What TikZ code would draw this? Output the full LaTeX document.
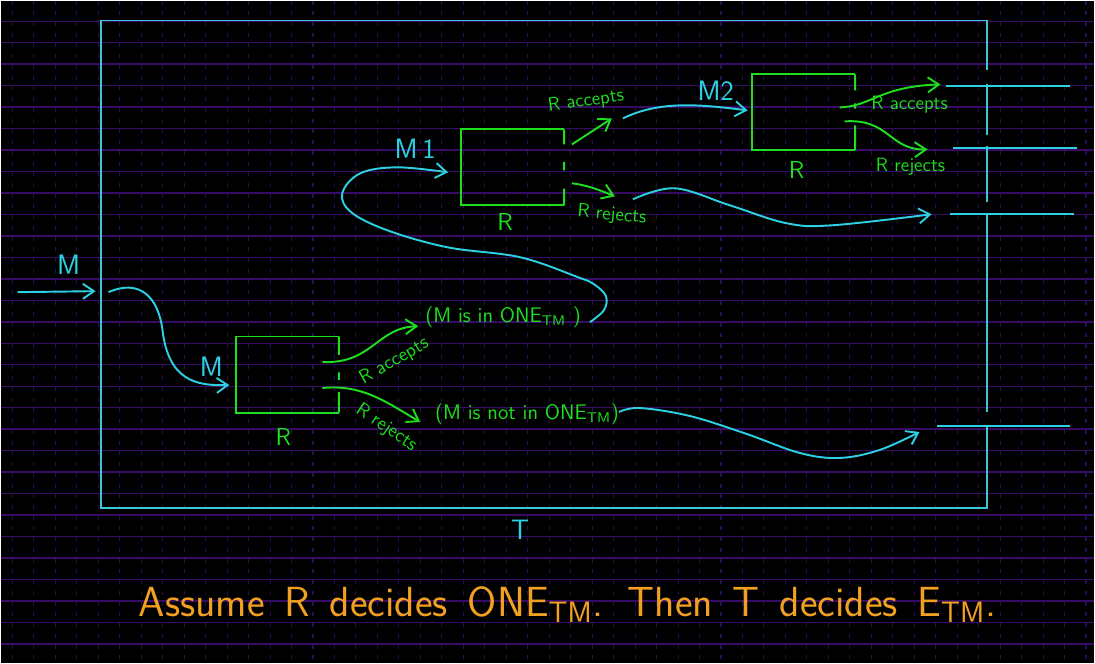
\documentclass[tikz,border=0pt]{standalone}
\usepackage{tikz}
\usetikzlibrary{arrows.meta,positioning,calc}
\definecolor{gridh}{RGB}{56,12,102}
\definecolor{gridv}{RGB}{40,14,88}
\definecolor{cyanink}{RGB}{45,208,226}
\definecolor{boxink}{RGB}{62,198,214}
\definecolor{greenink}{RGB}{30,222,30}
\definecolor{orangeink}{RGB}{242,160,32}

\begin{document}
\begin{tikzpicture}[x=0.02cm,y=-0.02cm,>={Straight Barb[length=2.2mm,width=3mm]},
  cy/.style={draw=cyanink,line width=1.1pt},
  gr/.style={draw=greenink,line width=1.1pt},
  tape/.style={inner sep=0pt,minimum width=2.05cm,minimum height=1.51cm},
  glbl/.style={text=greenink,font=\sffamily\fontsize{11}{13}\selectfont,inner sep=0pt},
  clbl/.style={text=cyanink,font=\sffamily\fontsize{16}{18}\selectfont,inner sep=1pt}]
  % paper
  \fill[black] (0,0) rectangle (1095,663);
  \foreach \k in {0,...,29} \draw[gridh,line width=0.8pt] (0,{20.7+21.5*\k}) -- (1095,{20.7+21.5*\k});
  \foreach \k in {0,...,50} \draw[gridv,line width=0.6pt,dash pattern=on 0.08cm off 0.135cm] ({11.7+21.5*\k},0) -- ({11.7+21.5*\k},663);
  % machine T
  \draw[draw=boxink,line width=1.1pt] (988,70) -- (988,20) -- (100,20) -- (100,508) -- (988,508) -- (988,426);
  \draw[draw=boxink,line width=1.1pt] (988,84) -- (988,135) (988,146) -- (988,202) (988,213) -- (988,412);
  \node[clbl] (t) at (520,530) {T};
  % outputs of T
  \draw[cy] (947,86) -- (1071,86);
  \draw[cy] (954,148) -- (1078,148);
  \draw[cy] (951,214) -- (1075,214);
  \draw[cy] (937,426) -- (1071,426);

  % decider R, run on M
  \node[tape] (ra) at (287,374.5) {};
  \draw[gr] (ra.north east) -- (ra.north west) -- (ra.south west) -- (ra.south east);
  \draw[gr] (ra.north east) -- ($(ra.north east)!0.24!(ra.south east)$)
    ($(ra.north east)!0.47!(ra.south east)$) -- ($(ra.north east)!0.57!(ra.south east)$)
    ($(ra.north east)!0.73!(ra.south east)$) -- (ra.south east);
  \node[glbl,font=\sffamily\fontsize{14}{16}\selectfont] (ral) at (283,437) {R};
  % decider R, run on M1
  \node[tape] (rb) at (512.5,167) {};
  \draw[gr] (rb.north east) -- (rb.north west) -- (rb.south west) -- (rb.south east);
  \draw[gr] (rb.north east) -- ($(rb.north east)!0.2!(rb.south east)$)
    ($(rb.north east)!0.43!(rb.south east)$) -- ($(rb.north east)!0.54!(rb.south east)$)
    ($(rb.north east)!0.78!(rb.south east)$) -- (rb.south east);
  \node[glbl,font=\sffamily\fontsize{14}{16}\selectfont] (rbl) at (505,222) {R};
  % decider R, run on M2
  \node[tape] (rc) at (804,112) {};
  \draw[gr] (rc.north east) -- (rc.north west) -- (rc.south west) -- (rc.south east);
  \draw[gr] (rc.north east) -- ($(rc.north east)!0.21!(rc.south east)$)
    ($(rc.north east)!0.38!(rc.south east)$) -- ($(rc.north east)!0.45!(rc.south east)$)
    ($(rc.north east)!0.67!(rc.south east)$) -- (rc.south east);
  \node[glbl,font=\sffamily\fontsize{14}{16}\selectfont] (rcl) at (797,170) {R};

  % input M
  \coordinate (in0) at (17,292);
  \coordinate (in1) at (95,291);
  \draw[cy,->] (in0) -- (in1);
  \node[clbl] (m) at (68,265) {M};
  \coordinate (m0) at (108,292);
  \coordinate (m1) at (229,385);
  \draw[cy,->] (m0) .. controls (140,278) and (158,298) .. (162,330) .. controls (168,380) and (195,386) .. (m1);
  \node[clbl] (mm) at (211,367) {M};

  % R on M
  \coordinate (aa0) at (322,362); \coordinate (aa1) at (418,326);
  \coordinate (ar0) at (322,388); \coordinate (ar1) at (420,422);
  \draw[gr,->] (aa0) .. controls (372,364) and (376,328) .. (aa1);
  \draw[gr,->] (ar0) .. controls (362,384) and (386,402) .. (ar1);
  \node[glbl,rotate=30] (aal) at (394,361) {R accepts};
  \node[glbl,rotate=-34] (arl) at (386,428) {R rejects};
  \node[glbl,font=\sffamily\fontsize{12}{14}\selectfont] (yes) at (503,317) {(M is in ONE\textsubscript{TM} )};
  \node[glbl,font=\sffamily\fontsize{12}{14}\selectfont] (no) at (527,414) {(M is not in ONE\textsubscript{TM})};

  % M is in ONE_TM: build M1
  \coordinate (b0) at (590,322);
  \coordinate (b1) at (448,172);
  \draw[cy,->] plot[smooth,tension=0.6] coordinates {(b0) (604,310) (606,296) (594,284) (578,277) (520,257) (447,247) (387,230) (351,212) (342,193) (360,173) (397,167) (b1)};
  \node[clbl] (m1l) at (415,148) {M\,1};
  % M is not in ONE_TM
  \coordinate (n0) at (619,412);
  \coordinate (n1) at (920,432);
  \draw[cy,->] plot[smooth,tension=0.6] coordinates {(n0) (640,408) (690,416) (747,434) (800,453) (840,458) (880,450) (n1)};

  % R on M1
  \coordinate (ba0) at (572,144); \coordinate (ba1) at (612,118);
  \coordinate (br0) at (572,183); \coordinate (br1) at (615,196);
  \draw[gr,->] (ba0) -- (ba1);
  \draw[gr,->] (br0) .. controls (588,185) and (600,190) .. (br1);
  \node[glbl,rotate=8] (bal) at (586,101) {R accepts};
  \node[glbl,rotate=-5] (brl) at (612,215) {R rejects};
  % build M2
  \coordinate (c0) at (623,118);
  \coordinate (c1) at (748,110);
  \draw[cy,->] (c0) .. controls (660,100) and (700,104) .. (c1);
  \node[clbl] (m2l) at (716,90) {M2};
  \coordinate (d0) at (633,199);
  \coordinate (d1) at (932,214);
  \draw[cy,->] plot[smooth,tension=0.6] coordinates {(d0) (675,188) (730,205) (787,223) (833,225) (d1)};

  % R on M2
  \coordinate (ca0) at (840,107); \coordinate (ca1) at (941,84);
  \coordinate (cr0) at (845,121); \coordinate (cr1) at (928,149);
  \draw[gr,->] (ca0) .. controls (872,106) and (880,86) .. (ca1);
  \draw[gr,->] (cr0) .. controls (890,118) and (890,150) .. (cr1);
  \node[glbl] (cal) at (910,104) {R accepts};
  \node[glbl] (crl) at (911,166) {R rejects};

  % claim
  \node[text=orangeink,font=\sffamily\fontsize{24}{28}\selectfont,anchor=west,inner sep=0pt] (claim) at (138,605)
    {\spaceskip=0.47em Assume R decides ONE\textsubscript{TM}. Then T decides E\textsubscript{TM}.};
\end{tikzpicture}
\end{document}
